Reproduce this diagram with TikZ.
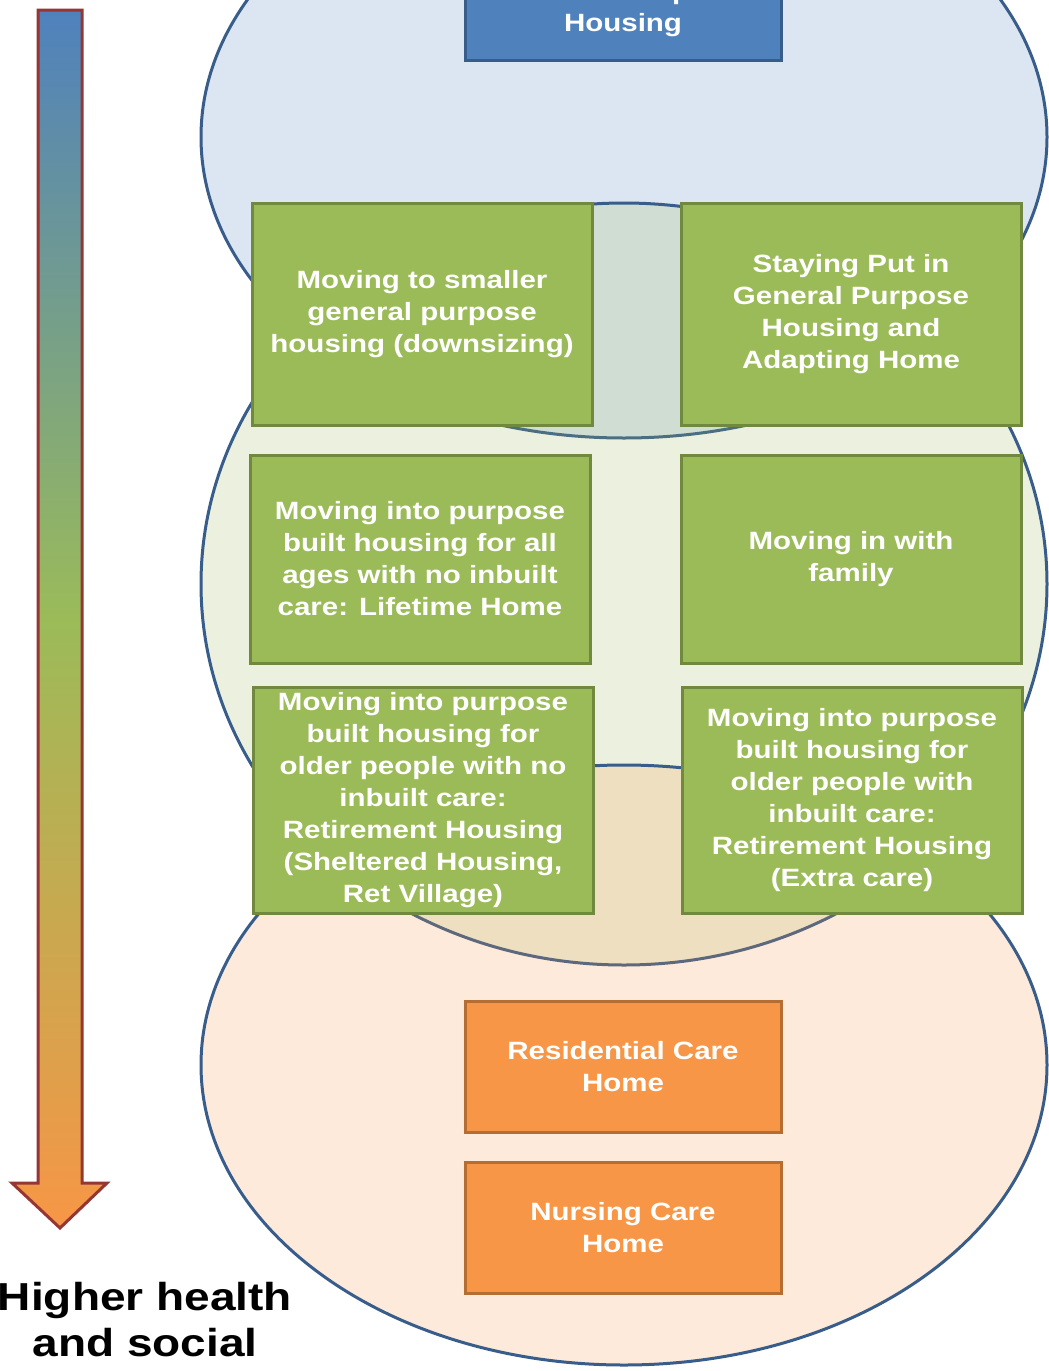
\documentclass[tikz,border=0pt]{standalone}
\usepackage{fontspec}
\setmainfont{Liberation Sans}[FakeStretch=1.18]

\definecolor{gpblue}{HTML}{4F81BD}
\definecolor{gpblueedge}{HTML}{385D8A}
\definecolor{optgreen}{HTML}{9BBB59}
\definecolor{optgreenedge}{HTML}{71893F}
\definecolor{careorange}{HTML}{F79646}
\definecolor{careorangeedge}{HTML}{B66D31}
\definecolor{arrowred}{HTML}{943634}

\begin{document}
\begin{tikzpicture}[
            x=0.5pt, y=-0.5pt,
            zone/.style={draw=gpblueedge, line width=1.5pt, fill opacity=0.2},
            box/.style={draw, line width=1.5pt, text=white, align=center,
                font=\bfseries\fontsize{12.5}{16}\selectfont, inner sep=0pt},
            housebox/.style={box, fill=gpblue, draw=gpblueedge},
            optbox/.style={box, fill=optgreen, draw=optgreenedge, minimum width=170pt},
            carebox/.style={box, fill=careorange, draw=careorangeedge,
                minimum width=158pt, minimum height=65.5pt}
        ]
            \useasboundingbox (0,0) rectangle (1049,1371);
            \clip (0,0) rectangle (1049,1371);

            % overlapping zones
            \path[zone, fill=gpblue] (624,137) ellipse [x radius=423, y radius=301];
            \path[zone, fill=optgreen] (624,584) ellipse [x radius=423, y radius=381];
            \path[zone, fill=careorange] (624,1065) ellipse [x radius=423, y radius=300];

            % scale arrow
            \shadedraw[draw=arrowred, line width=1.5pt, line join=miter,
                top color=gpblue, bottom color=careorange, middle color=optgreen]
                (38,10) -- (82,10) -- (82,1183) -- (107,1183) -- (60,1228)
                -- (12,1183) -- (38,1183) -- cycle;

            \node[housebox, minimum width=158pt, minimum height=51pt] (general) at (623,9)
                {General Purpose\\Housing};

            \node[optbox, minimum height=111pt] (downsize) at (422,314)
                {Moving to smaller\\general purpose\\housing (downsizing)};
            \node[optbox, minimum height=111pt] (stayput) at (851,314)
                {Staying Put in\\General Purpose\\Housing and\\Adapting Home};
            \node[optbox, minimum height=104pt] (lifetime) at (420,559)
                {Moving into purpose\\built housing for all\\ages with no inbuilt\\care: Lifetime Home};
            \node[optbox, minimum height=104pt] (family) at (851,559)
                {Moving in with\\family};
            \node[optbox, minimum height=113pt] (sheltered) at (423,800)
                {Moving into purpose\\built housing for\\older people with no\\inbuilt care:\\Retirement Housing\\(Sheltered Housing,\\Ret Village)};
            \node[optbox, minimum height=113pt] (extracare) at (852,800)
                {Moving into purpose\\built housing for\\older people with\\inbuilt care:\\Retirement Housing\\(Extra care)};

            \node[carebox] (residential) at (623,1067) {Residential Care\\Home};
            \node[carebox] (nursing) at (623,1228) {Nursing Care\\Home};

            \node[align=center, font=\bfseries\fontsize{19.5}{23}\selectfont] (higher) at (145,1320)
                {Higher health\\and social};
        \end{tikzpicture}
\end{document}
